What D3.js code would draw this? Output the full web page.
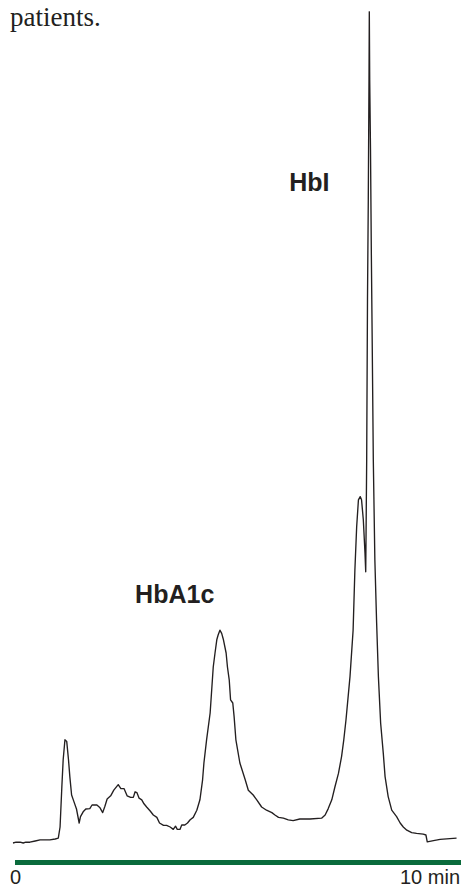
<!DOCTYPE html>
<html>
<head>
<meta charset="utf-8">
<script src="https://cdn.jsdelivr.net/npm/d3@7/dist/d3.min.js"></script>
<style>
  html, body { margin: 0; padding: 0; background: #fff; }
  svg { display: block; }
</style>
</head>
<body>
<svg id="chart" width="461" height="888"></svg>
<script>
// Retention time (min)
const times = [
  0.00, 0.07, 0.16, 0.23, 0.29, 0.38, 0.50, 0.61, 0.72, 0.83, 0.95, 1.02, 1.06, 1.10, 1.13, 1.17, 1.21, 1.25, 1.28, 1.32,
  1.37, 1.43, 1.49, 1.52, 1.58, 1.64, 1.73, 1.78, 1.89, 1.96, 2.02, 2.07, 2.12, 2.20, 2.27, 2.37, 2.43, 2.50, 2.57, 2.65,
  2.71, 2.75, 2.79, 2.84, 2.90, 2.95, 3.01, 3.09, 3.16, 3.24, 3.30, 3.39, 3.46, 3.54, 3.61, 3.66, 3.70, 3.76, 3.80, 3.87,
  3.93, 3.99, 4.06, 4.14, 4.21, 4.27, 4.30, 4.36, 4.44, 4.51, 4.55, 4.59, 4.62, 4.66, 4.70, 4.74, 4.80, 4.83, 4.87, 4.90,
  4.95, 4.98, 5.02, 5.11, 5.23, 5.30, 5.41, 5.49, 5.60, 5.71, 5.83, 5.90, 5.98, 6.09, 6.20, 6.31, 6.46, 6.69, 6.95, 7.03,
  7.10, 7.18, 7.25, 7.33, 7.40, 7.45, 7.50, 7.59, 7.66, 7.70, 7.74, 7.78, 7.82, 7.85, 7.89, 7.928, 7.944, 7.950, 7.966, 7.984,
  8.002, 8.018, 8.025, 8.034, 8.052, 8.070, 8.092, 8.115, 8.15, 8.19, 8.23, 8.28, 8.34, 8.38, 8.45, 8.53, 8.64, 8.72, 8.79, 8.87,
  8.98, 9.09, 9.24, 9.30, 9.33, 9.47, 9.62, 9.84, 9.99
];
// Detector signal (relative units)
const signal = [
  0.0, 0.1, 0.1, 0.0, 0.1, 0.1, 0.25, 0.4, 0.4, 0.4, 0.5, 0.6, 2.0, 7.0, 10.4, 12.9, 12.7, 10.4, 8.3, 6.0,
  5.2, 4.25, 2.5, 3.3, 3.9, 4.25, 4.3, 4.75, 4.75, 4.4, 3.8, 4.6, 5.5, 5.9, 6.6, 7.3, 6.8, 6.8, 5.9, 5.7,
  5.7, 6.4, 6.3, 5.6, 5.4, 4.9, 4.5, 4.0, 3.5, 3.2, 2.5, 2.2, 2.2, 2.0, 1.7, 2.1, 1.7, 1.7, 2.25, 2.25,
  2.5, 2.9, 3.2, 4.1, 5.4, 7.9, 10.0, 12.9, 16.25, 22.0, 23.75, 25.4, 26.0, 26.6, 26.2, 25.4, 23.75, 22.0, 20.4, 17.9,
  17.5, 15.8, 12.9, 10.0, 7.9, 6.6, 6.0, 5.4, 4.5, 4.1, 3.8, 3.5, 3.2, 3.1, 2.9, 2.8, 3.0, 3.0, 3.1, 3.5,
  4.3, 5.4, 7.0, 8.7, 10.8, 12.9, 15.4, 20.8, 26.6, 34.1, 39.5, 42.9, 43.3, 42.9, 40.4, 36.2, 33.9, 37.5, 47.9, 67.9,
  80.4, 95.4, 103.9, 95.4, 86.6, 74.1, 61.6, 47.9, 35.4, 27.5, 20.75, 15.0, 11.2, 8.3, 5.8, 4.1, 3.3, 2.5, 2.0, 1.6,
  1.3, 1.2, 1.1, 1.0, 0.15, 0.3, 0.45, 0.55, 0.6
];
// Peak labels
const peakNames = ["HbA1c", "HbI"];
const peakTimes = [2.75, 6.22];
const peakLevels = [30.0, 81.5];
// Axis tick labels
const tickValues = [0, 10];
const tickLabels = ["0", "10 min"];
const captionText = "patients.";

const svg = d3.select("#chart");
const x = d3.scaleLinear().domain([0, 10]).range([13, 457]);
const y = d3.scaleLinear().domain([0, 104]).range([843, 11]);

// caption fragment
svg.append("text")
  .attr("x", 10).attr("y", 26)
  .attr("font-family", "'Liberation Serif', 'Times New Roman', serif")
  .attr("font-size", 27)
  .attr("fill", "#231f20")
  .text(captionText);

// chromatogram trace
const pts = times.map((t, i) => [t, signal[i]]);
const line = d3.line().x(d => x(d[0])).y(d => y(d[1])).curve(d3.curveLinear);
svg.append("path")
  .attr("d", line(pts))
  .attr("fill", "none")
  .attr("stroke", "#231f20")
  .attr("stroke-width", 1.35)
  .attr("stroke-linejoin", "round");

// peak labels
svg.selectAll("text.peak")
  .data(peakNames)
  .join("text")
  .attr("class", "peak")
  .attr("x", (d, i) => x(peakTimes[i]))
  .attr("y", (d, i) => y(peakLevels[i]))
  .attr("font-family", "'Liberation Sans', Arial, sans-serif")
  .attr("font-weight", "bold")
  .attr("font-size", 25)
  .attr("fill", "#231f20")
  .text(d => d);

// green time bar
svg.append("rect")
  .attr("x", x(0) + 2)
  .attr("y", 860)
  .attr("width", 461 - (x(0) + 2))
  .attr("height", 5)
  .attr("fill", "#0a6b3c");

// tick labels
svg.selectAll("text.tick")
  .data(tickValues)
  .join("text")
  .attr("class", "tick")
  .attr("x", (d, i) => i === 0 ? x(d) - 3 : 460)
  .attr("y", 884)
  .attr("text-anchor", (d, i) => i === 0 ? "start" : "end")
  .attr("font-family", "'Liberation Sans', Arial, sans-serif")
  .attr("font-size", 20)
  .attr("fill", "#231f20")
  .text((d, i) => tickLabels[i]);
</script>
</body>
</html>
